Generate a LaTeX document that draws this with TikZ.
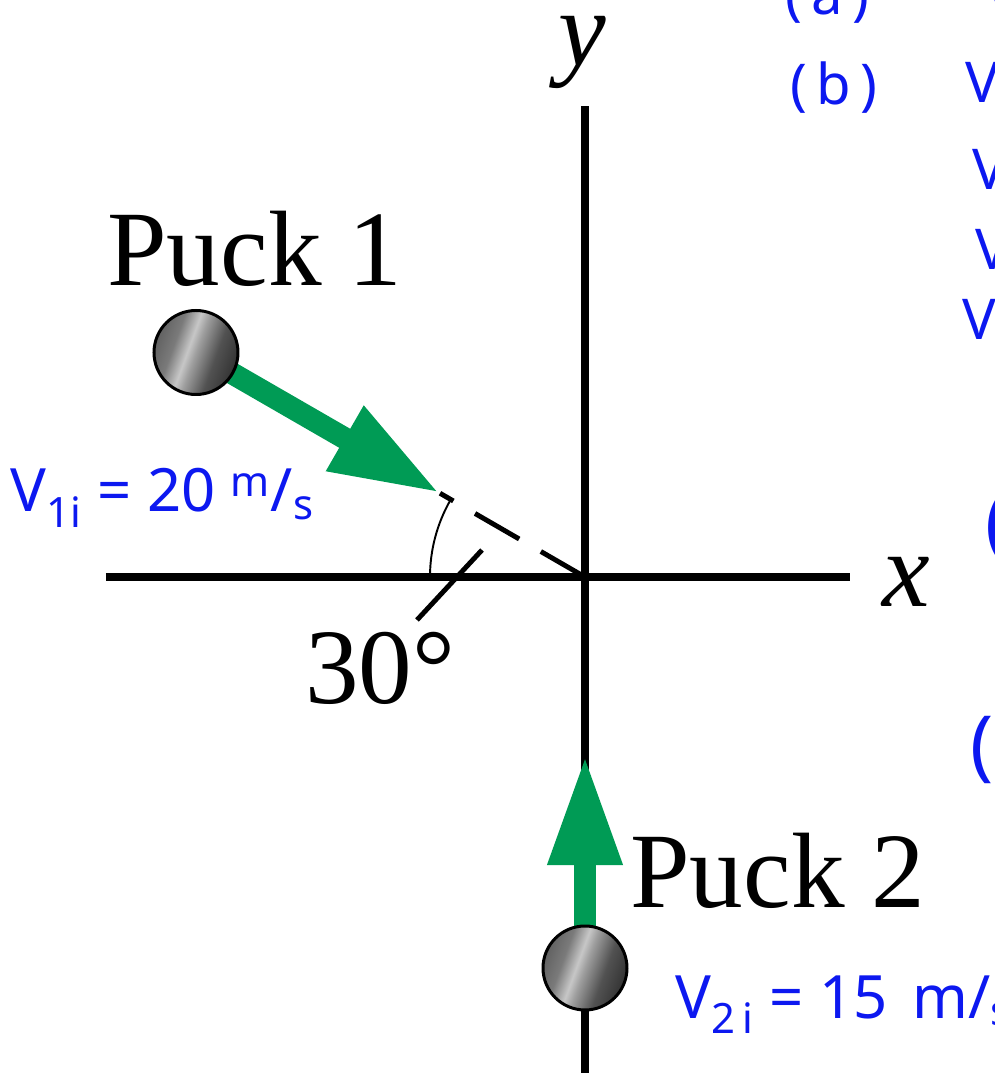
\documentclass[tikz,border=0pt]{standalone}
\usepackage{fontspec}
\setmainfont{Liberation Serif}
\newfontfamily\handfont{Noto Sans}
\usepackage{xcolor}
\usetikzlibrary{positioning,arrows.meta,calc}
\definecolor{puckgreen}{RGB}{0,155,85}
\definecolor{inkblue}{RGB}{12,24,240}
\pgfdeclarehorizontalshading{puckmetal}{100bp}{color(0bp)=(black!62); color(25bp)=(black!62);
  color(36bp)=(black!52); color(45bp)=(black!22); color(50bp)=(black!38);
  color(62bp)=(black!68); color(75bp)=(black!80); color(100bp)=(black!80)}

\begin{document}
\begin{tikzpicture}[
  axis/.style={line width=4.5pt},
  vel/.style={line width=12.5pt, draw=puckgreen, -{Triangle[length=2.2cm,width=1.38cm]}},
  puck/.style={circle, draw=black, line width=1.7pt, minimum size=1.68cm, inner sep=0pt,
               shading=puckmetal, shading angle=-20},
  big/.style={font=\fontsize{61}{61}\selectfont, inner sep=0pt},
  hand/.style={text=inkblue, font=\handfont\fontsize{32}{32}\selectfont, inner sep=0pt}]

  \useasboundingbox (-11.7,-9.92) rectangle (8.18,11.54);
  \clip (-11.7,-9.92) rectangle (8.18,11.54);

  %% ─── Axes ──────────────────────────────────────────────────────────────
  \coordinate (O)      at (0,0);
  \coordinate (ytop)   at (0,9.42);
  \coordinate (ybot)   at (0,-10.2);
  \coordinate (xleft)  at (-9.58,0);
  \coordinate (xright) at (5.3,0);
  \draw[axis] (ybot) -- (ytop);
  \draw[axis] (xleft) -- (xright);
  \node[big, anchor=base]      (ylab) at (-0.05,10.22) {\textit{y}};
  \node[big, anchor=base west] (xlab) at (5.95,-0.6)   {\textit{x}};

  %% ─── Angle of puck 1 ───────────────────────────────────────────────────
  \coordinate (t1) at (-2.9,1.675);
  \draw[line width=1.1pt] ($(O)+(180:3.1)$) arc[start angle=180, end angle=150, radius=3.1];
  \draw[line width=2.8pt, dash pattern=on 1.02cm off 0.5cm] (O) -- (t1);
  \node[big, anchor=base west] (ang) at (-5.6,-2.52) {30°};
  \coordinate (angtail) at (-3.36,-0.86);
  \coordinate (angtip)  at (-2.06,0.54);
  \draw[line width=2.8pt] (angtail) -- (angtip);

  %% ─── Pucks and velocities ──────────────────────────────────────────────
  \coordinate (c1) at (-7.78,4.49);
  \coordinate (c2) at (0,-7.82);
  \coordinate (t2) at (0,-3.56);
  \draw[vel] (c1) -- (t1);
  \draw[vel] (c2) -- (t2);
  \node[puck] (p1) at (c1) {};
  \node[puck] (p2) at (c2) {};
  \node[big, anchor=base west] (lab1) at (-9.56,5.82) {Puck 1};
  \node[big, anchor=base west] (lab2) at (0.9,-6.6)   {Puck 2};

  %% ─── Handwritten notes ─────────────────────────────────────────────────
  \node[hand, font=\handfont\fontsize{34}{34}\selectfont, anchor=base west] (v1) at (-11.5,1.3)
    {V\textsubscript{1i} = 20 \textsuperscript{m}/\textsubscript{s}};
  \node[hand, font=\handfont\fontsize{34}{34}\selectfont, anchor=base west] (v2) at (1.8,-8.82)
    {V\textsubscript{2\,i} = 15 \,m/\textsubscript{s}};
  \node[hand, anchor=base west] (pa) at (4.0,11.24) {(\,a\,)};
  \node[hand, anchor=base west] (pb) at (4.1,9.44)  {(\,b\,)};
  \node[hand, anchor=base west] (va) at (7.98,11.3) {V};
  \node[hand, anchor=base west] (vb) at (7.6,9.48)  {V};
  \node[hand, anchor=base west] (vc) at (7.74,7.74) {V};
  \node[hand, anchor=base west] (vd) at (7.8,6.14)  {V};
  \node[hand, anchor=base west] (ve) at (7.54,4.74) {V};
  \node[hand, font=\handfont\fontsize{44}{44}\selectfont, anchor=west] (pc) at (8.0,0.98)  {(};
  \node[hand, font=\handfont\fontsize{44}{44}\selectfont, anchor=west] (pd) at (7.7,-3.46) {(};
\end{tikzpicture}
\end{document}
